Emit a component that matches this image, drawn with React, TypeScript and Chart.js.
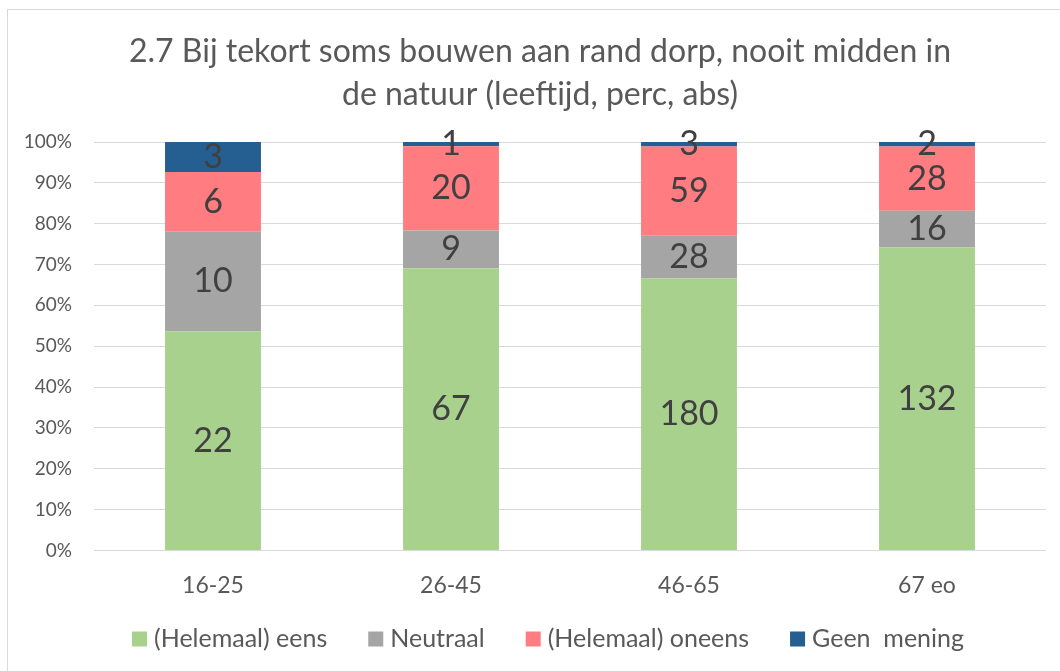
import React, { useEffect, useRef } from "react";
import { Chart, registerables } from "chart.js";

Chart.register(...registerables);

const categories = ["16-25", "26-45", "46-65", "67 eo"];
const eens = [22, 67, 180, 132];
const neutraal = [10, 9, 28, 16];
const oneens = [6, 20, 59, 28];
const geenMening = [3, 1, 3, 2];
const seriesNames = ["(Helemaal) eens", "Neutraal", "(Helemaal) oneens", "Geen  mening"];
const seriesColors = ["#A9D18E", "#A5A5A5", "#FF7C80", "#255E91"];
const titleLines = ["2.7 Bij tekort soms bouwen aan rand dorp, nooit midden in", "de natuur (leeftijd, perc, abs)"];

const FONT = "Lato, 'Open Sans', sans-serif";
const TEXT = "#595959";

const counts = [eens, neutraal, oneens, geenMening];
const totals = categories.map((_, i) => counts.reduce((s, arr) => s + arr[i], 0));

const labelPlugin = {
  id: "segLabels",
  afterDatasetsDraw(chart: any) {
    const ctx = chart.ctx;
    ctx.save();
    ctx.font = `34px ${FONT}`;
    ctx.fillStyle = "#404040";
    ctx.textAlign = "center";
    ctx.textBaseline = "middle";
    chart.data.datasets.forEach((ds: any, di: number) => {
      const meta = chart.getDatasetMeta(di);
      meta.data.forEach((bar: any, i: number) => {
        const cy = (bar.y + bar.base) / 2;
        ctx.fillText(String(ds.counts[i]), bar.x, cy);
      });
    });
    ctx.restore();
  },
};

const titlePlugin = {
  id: "customTitle",
  afterDraw(chart: any) {
    const ctx = chart.ctx;
    ctx.save();
    ctx.font = `32px ${FONT}`;
    ctx.fillStyle = TEXT;
    ctx.textAlign = "center";
    ctx.textBaseline = "middle";
    const cx = chart.width / 2;
    titleLines.forEach((line, k) => {
      ctx.fillText(line, cx, 42 + k * 43);
    });
    ctx.restore();
  },
};

const legendPlugin = {
  id: "customLegend",
  afterDraw(chart: any) {
    const ctx = chart.ctx;
    ctx.save();
    ctx.font = `25px ${FONT}`;
    const box = 15;
    const gap = 7;
    const sep = 41;
    const widths = seriesNames.map((n) => ctx.measureText(n).width);
    const total = widths.reduce((s, w) => s + box + gap + w, 0) + sep * (seriesNames.length - 1);
    let x = chart.width / 2 + 8 - total / 2;
    const y = chart.height - 33;
    ctx.textBaseline = "middle";
    ctx.textAlign = "left";
    seriesNames.forEach((n, k) => {
      ctx.fillStyle = seriesColors[k];
      ctx.fillRect(x, y - box / 2, box, box);
      ctx.fillStyle = TEXT;
      ctx.fillText(n, x + box + gap, y);
      x += box + gap + widths[k] + sep;
    });
    ctx.restore();
  },
};

export default function App() {
  const ref = useRef<HTMLCanvasElement>(null);
  useEffect(() => {
    if (!ref.current) return;
    const chart = new Chart(ref.current, {
      type: "bar",
      data: {
        labels: categories,
        datasets: counts.map((arr, k) => ({
          label: seriesNames[k],
          data: arr.map((v, i) => (v / totals[i]) * 100),
          counts: arr,
          backgroundColor: seriesColors[k],
          borderWidth: 0,
          barPercentage: 0.403,
          categoryPercentage: 1,
        })) as any,
      },
      options: {
        animation: false,
        responsive: true,
        maintainAspectRatio: false,
        layout: { padding: { left: 0, right: 26, top: 132, bottom: 60 } },
        plugins: {
          title: { display: false },
          legend: { display: false },
          tooltip: { enabled: false },
        },
        scales: {
          x: {
            stacked: true,
            grid: { display: false },
            border: { display: false },
            ticks: { color: TEXT, font: { family: FONT, size: 23 }, padding: 13 },
          },
          y: {
            stacked: true,
            min: 0,
            max: 100,
            afterFit: (s: any) => {
              s.width = 86;
            },
            grid: { color: "#D9D9D9", drawTicks: false, lineWidth: 1 },
            border: { display: false },
            ticks: {
              stepSize: 10,
              color: TEXT,
              font: { family: FONT, size: 19 },
              padding: 22,
              callback: (v: any) => `${v}%`,
            },
          },
        },
      },
      plugins: [labelPlugin, titlePlugin, legendPlugin],
    });
    return () => chart.destroy();
  }, []);
  return (
    <div
      style={{
        position: "absolute",
        left: 7,
        top: 9,
        width: 1066,
        height: 664,
        border: "1px solid #D9D9D9",
        boxSizing: "border-box",
        background: "#fff",
      }}
    >
      <canvas ref={ref} />
    </div>
  );
}
